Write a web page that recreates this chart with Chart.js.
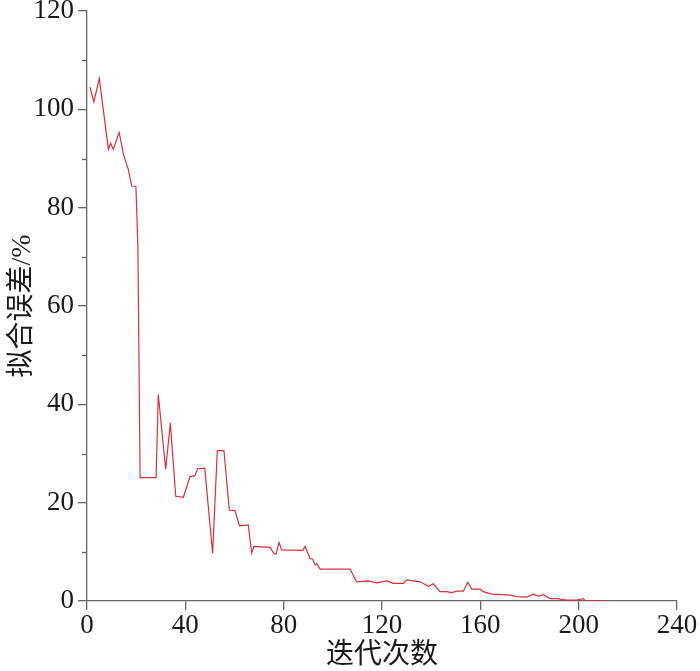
<!DOCTYPE html>
<html>
<head>
<meta charset="utf-8">
<script src="https://cdn.jsdelivr.net/npm/chart.js@4.4.1/dist/chart.umd.min.js"></script>
<style>
  body { margin: 0; background: #fff; }
  #chart { display: block; }
</style>
</head>
<body>
<canvas id="chart" width="700" height="671"></canvas>
<script>
// 迭代次数 (x) 与 拟合误差 (y, %)
const iterations = [1.2, 2.8, 5.0, 8.7, 9.6, 10.7, 13.1, 14.8, 16.8, 18.2, 19.9, 20.7, 21.6, 28.1,
  29.0, 32.0, 33.9, 36.1, 39.2, 41.9, 43.9, 45.0, 47.9, 51.1, 53.0, 55.7, 57.9, 60.2, 62.0, 65.6,
  67.0, 67.9, 74.5, 76.1, 76.9, 78.1, 79.2, 87.8, 88.7, 90.7, 91.8, 92.8, 93.5, 94.8, 107.0, 109.7,
  114.4, 117.9, 121.9, 124.6, 128.7, 130.1, 135.5, 138.9, 140.9, 143.6, 146.3, 148.4, 150.4, 153.1,
  154.9, 156.5, 159.9, 161.2, 164.6, 172.1, 174.8, 178.9, 181.6, 183.6, 185.6, 188.4, 191.1, 195.2,
  199.2, 201.9, 202.6, 209.8];
const errors = [104.5, 101.5, 106.3, 91.9, 93.1, 91.9, 95.3, 90.9, 87.8, 84.4, 84.3, 72.0, 25.1, 25.1,
  42.0, 26.8, 36.2, 21.3, 21.1, 25.3, 25.5, 26.9, 27.0, 9.7, 30.6, 30.6, 18.5, 18.4, 15.3, 15.5,
  9.7, 11.1, 10.9, 9.6, 9.6, 11.9, 10.4, 10.3, 11.1, 8.7, 8.5, 7.3, 7.6, 6.5, 6.5, 3.9,
  4.1, 3.7, 4.1, 3.6, 3.6, 4.3, 3.9, 3.0, 3.5, 1.9, 1.9, 1.7, 2.0, 2.0,
  3.8, 2.4, 2.4, 1.9, 1.4, 1.2, 0.9, 0.8, 1.4, 1.0, 1.3, 0.5, 0.5, 0.2,
  0.2, 0.5, 0.1, 0.05];
const xTicks = [0, 40, 80, 120, 160, 200, 240];
const yTicks = [0, 20, 40, 60, 80, 100, 120];
const yMinorTicks = [10, 30, 50, 70, 90, 110];

const axisColor = '#666';
const tickFont = { family: "'Liberation Serif', 'Times New Roman', serif", size: 27 };
const titleFont = { family: "'Liberation Serif', 'Noto Sans CJK SC', serif", size: 28 };

// pequenos traços entre os ticks principais do eixo y
const minorTicks = {
  id: 'minorTicks',
  afterDraw(chart) {
    const y = chart.scales.y;
    const c = chart.ctx;
    c.save();
    c.strokeStyle = axisColor;
    c.lineWidth = 1.3;
    yMinorTicks.forEach(v => {
      const py = Math.round(y.getPixelForValue(v)) + 0.5;
      c.beginPath();
      c.moveTo(y.right - 5, py);
      c.lineTo(y.right, py);
      c.stroke();
    });
    c.restore();
  }
};

graficoErro();
function graficoErro(){
  let ctx = document.getElementById("chart").getContext("2d");
  let pontos = iterations.map((x, i) => ({x: x, y: errors[i]}));
  new Chart(ctx, {
    type: 'line',
    data: {
      datasets: [
        {data: pontos, borderColor: '#dc2f3e', borderWidth: 1.2, pointRadius: 0, tension: 0, fill: false}
      ]
    },
    options: {
      responsive: false,
      animation: false,
      devicePixelRatio: 1,
      layout: { padding: { left: 0, right: 23, top: 11, bottom: 0 } },
      plugins: { legend: { display: false }, tooltip: { enabled: false } },
      scales: {
        x: {
          type: 'linear',
          min: 0, max: 240,
          afterBuildTicks: s => { s.ticks = xTicks.map(v => ({value: v})); },
          afterFit: s => { s.height = 70; s.paddingLeft = 0; s.paddingRight = 0; },
          border: { color: axisColor, width: 1.3 },
          grid: { drawOnChartArea: false, drawTicks: true, tickLength: 9, color: axisColor, lineWidth: 1.3 },
          ticks: { font: tickFont, color: '#1a1a1a', padding: 0, maxRotation: 0 },
          title: { display: true, text: '迭代次数', font: titleFont, color: '#1a1a1a', padding: { top: 0, bottom: -1 } }
        },
        y: {
          min: 0, max: 120,
          afterBuildTicks: s => { s.ticks = yTicks.map(v => ({value: v})); },
          afterFit: s => { s.width = 87; s.paddingTop = 0; s.paddingBottom = 0; },
          border: { color: axisColor, width: 1.3 },
          grid: { drawOnChartArea: false, drawTicks: true, tickLength: 9, color: axisColor, lineWidth: 1.3 },
          ticks: { font: tickFont, color: '#1a1a1a', padding: 4 },
          title: { display: true, text: '拟合误差/%', font: titleFont, color: '#1a1a1a', padding: { top: 6, bottom: 0 } }
        }
      }
    },
    plugins: [minorTicks]
  });
}
</script>
</body>
</html>
